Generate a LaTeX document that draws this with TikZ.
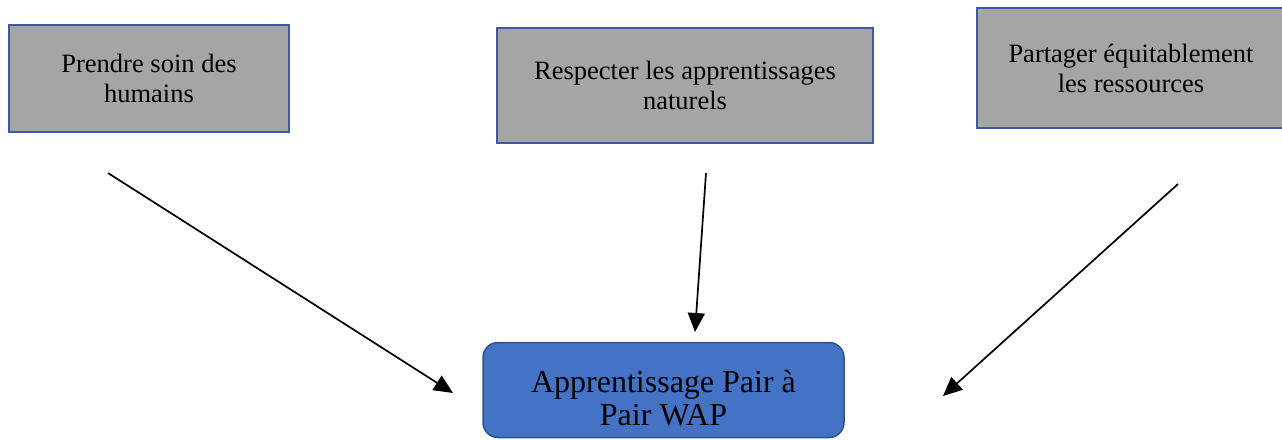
\documentclass[tikz,border=0pt]{standalone}
\usepackage{fontspec}
\setmainfont{Liberation Serif}
\usetikzlibrary{arrows.meta}

\definecolor{boxgray}{HTML}{A5A5A5}
\definecolor{boxline}{HTML}{3A5C9E}
\definecolor{wapblue}{HTML}{4472C4}
\definecolor{wapline}{HTML}{2F528F}

\begin{document}
\begin{tikzpicture}[x=1pt, y=-1pt,
    principe/.style={draw=boxline, line width=2pt, fill=boxgray, align=center,
        font=\fontsize{26.5}{30}\selectfont, inner sep=0pt},
    wap/.style={draw=wapline, line width=1.5pt, fill=wapblue, rounded corners=15pt,
        inner sep=0pt, minimum width=361pt, minimum height=95pt},
    waptext/.style={align=center, font=\fontsize{32}{33.5}\selectfont, inner sep=0pt}]

    \useasboundingbox (0,0) rectangle (1282,439);

    \node[principe, minimum width=280pt, minimum height=107pt] (soin) at (149,78.5)
        {Prendre soin des\\humains};
    \node[principe, minimum width=376pt, minimum height=115pt] (respect) at (685,85.5)
        {Respecter les apprentissages\\naturels};
    \node[principe, minimum width=308pt, minimum height=120pt] (partage) at (1131,68)
        {Partager équitablement\\les ressources};

    \node[wap] (wap) at (663.5,390) {};
    \node[waptext] (waplabel) at ([yshift=-8pt]wap.center) {Apprentissage Pair à\\Pair WAP};

    \coordinate (soin-out) at (108,173);
    \coordinate (respect-out) at (706,173);
    \coordinate (partage-out) at (1178,184);
    \coordinate (wap-left) at (453,393);
    \coordinate (wap-top) at (695,332);
    \coordinate (wap-right) at (943,396);

    \begin{scope}[>={Triangle[length=19pt, width=17pt]}, line width=1.7pt]
        \draw [->] (soin-out) -- (wap-left);
        \draw [->] (respect-out) -- (wap-top);
        \draw [->] (partage-out) -- (wap-right);
    \end{scope}

\end{tikzpicture}
\end{document}
